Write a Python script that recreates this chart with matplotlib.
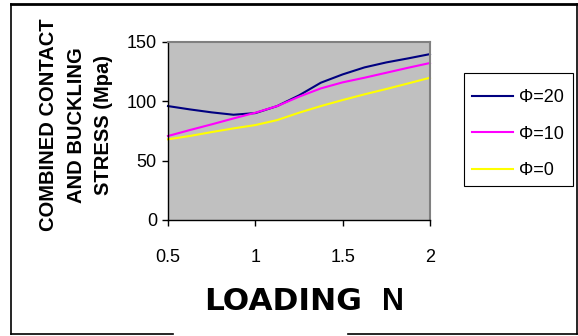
import matplotlib.pyplot as plt
from matplotlib.lines import Line2D
from matplotlib.patches import Rectangle

# loading (N) and combined stress (MPa) for each pressure angle
loading = [0.5, 0.625, 0.75, 0.875, 1.0, 1.125, 1.25, 1.375, 1.5, 1.625, 1.75, 1.875, 2.0]
stress_phi20 = [96.0, 93.2, 90.7, 88.7, 90.1, 96.0, 105.0, 115.7, 122.7, 128.6, 132.8, 136.2, 139.8]
stress_phi10 = [70.8, 75.8, 80.6, 85.6, 90.4, 96.0, 103.9, 110.9, 116.0, 119.9, 124.1, 128.3, 132.3]
stress_phi0 = [68.0, 70.8, 74.1, 77.2, 80.0, 84.2, 90.4, 96.0, 101.1, 105.9, 110.4, 115.1, 119.9]

series_labels = ['\u03a6=20', '\u03a6=10', '\u03a6=0']
series_colors = ['#000080', '#FF00FF', '#FFFF00']
x_ticks = [0.5, 1, 1.5, 2]
y_ticks = [0, 50, 100, 150]

plt.rcParams['font.family'] = ['Liberation Sans', 'DejaVu Sans']

W, H = 578, 336
fig = plt.figure(figsize=(W / 100, H / 100), dpi=100)
ax = fig.add_axes([168 / W, 1 - 220 / H, 262 / W, 178 / H])
ax.set_facecolor('#C0C0C0')

for ys, lab, col in zip([stress_phi20, stress_phi10, stress_phi0], series_labels, series_colors):
    ax.plot(loading, ys, color=col, lw=1.5, label=lab, clip_on=False)

ax.set_xlim(0.5, 2)
ax.set_ylim(0, 150)
ax.set_xticks(x_ticks)
ax.set_xticklabels(['0.5', '1', '1.5', '2'])
ax.set_yticks(y_ticks)
ax.tick_params(axis='both', direction='out', length=4, width=1, labelsize=13, colors='black')
ax.tick_params(axis='x', pad=17)
ax.tick_params(axis='y', pad=4)
for side in ['top', 'right']:
    ax.spines[side].set_color('#808080')
    ax.spines[side].set_linewidth(1.5)
for side in ['left', 'bottom']:
    ax.spines[side].set_color('black')
    ax.spines[side].set_linewidth(1)

# y axis title, three bold lines
fig.text(76 / W, 1 - 125 / H, 'COMBINED CONTACT\nAND BUCKLING\nSTRESS (Mpa)',
         rotation=90, ha='center', va='center', fontsize=14.5, fontweight='bold',
         linespacing=1.55, multialignment='center')

# x axis title
fig.text(283 / W, 1 - 310 / H, 'LOADING', family='DejaVu Sans', fontweight='bold',
         fontsize=22.5, ha='center', va='baseline')
fig.text(393 / W, 1 - 310 / H, 'N', fontweight='bold', fontsize=22,
         ha='center', va='baseline')

# legend entries without frame, box drawn separately
leg = ax.legend(loc='upper left', bbox_to_anchor=(472 / W, 1 - 89 / H),
                bbox_transform=fig.transFigure, fontsize=13, frameon=False,
                handlelength=2.28, handletextpad=0.3, labelspacing=1.09,
                borderpad=0, borderaxespad=0)
fig.add_artist(Rectangle((464 / W, 1 - 186 / H), 109 / W, 113 / H, fill=False,
                         edgecolor='black', lw=0.8, transform=fig.transFigure))

# outer chart border (bottom edge broken in the middle)
border = [((11, 577), (4, 4), 2.0), ((11, 11), (4, 334), 1.2), ((577, 577), (4, 334), 1.2),
          ((11, 173), (334, 334), 1.2), ((348, 577), (334, 334), 1.2)]
for xs, ys, lw in border:
    fig.add_artist(Line2D([x / W for x in xs], [1 - y / H for y in ys], color='black',
                          lw=lw, transform=fig.transFigure))

plt.savefig('out.png', dpi=100)
